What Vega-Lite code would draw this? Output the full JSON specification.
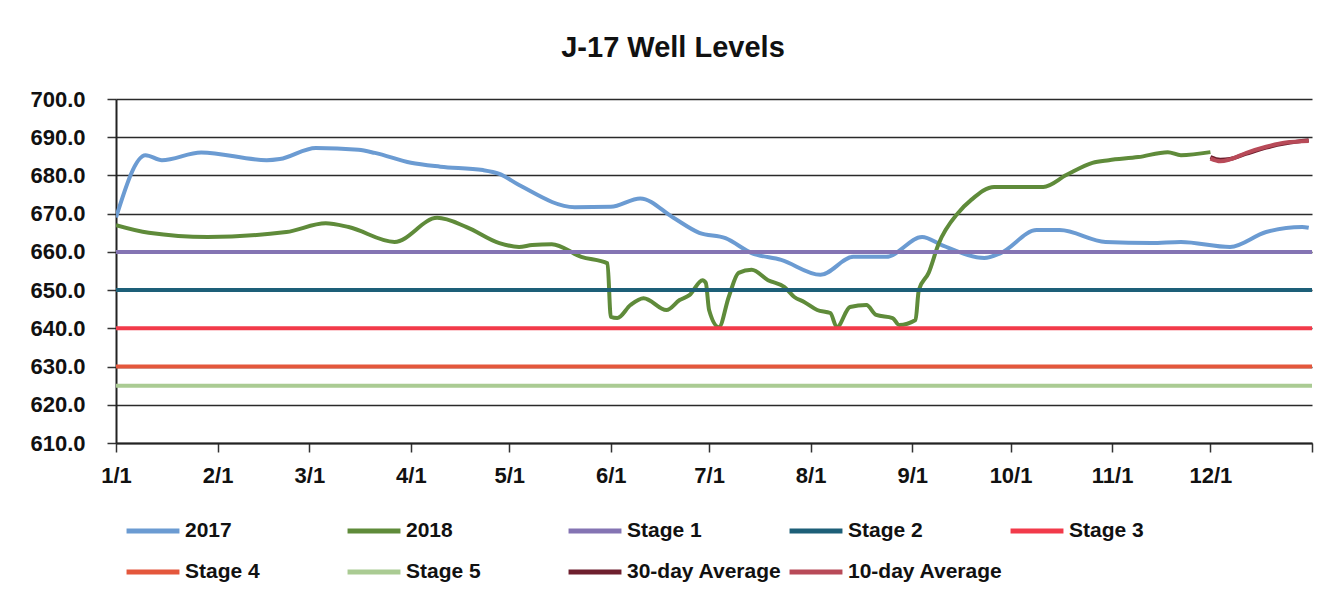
{
  "$schema": "https://vega.github.io/schema/vega-lite/v6.json",
  "width": 1196,
  "height": 344,
  "autosize": {"type": "none"},
  "padding": {"left": 116, "top": 99, "right": 29, "bottom": 168},
  "background": "white",
  "title": {
    "text": "J-17 Well Levels",
    "font": "Liberation Sans",
    "fontSize": 29,
    "fontWeight": "bold",
    "color": "#111111",
    "anchor": "middle",
    "dx": -41,
    "baseline": "alphabetic",
    "offset": 2
  },
  "config": {
    "view": {"stroke": null},
    "font": "Liberation Sans"
  },
  "data": {
    "values": [
      {"series": "2017", "date": "2018/01/01", "level": 669},
      {"series": "2017", "date": "2018/01/10", "level": 685.3},
      {"series": "2017", "date": "2018/01/15", "level": 684},
      {"series": "2017", "date": "2018/01/27", "level": 686},
      {"series": "2017", "date": "2018/02/16", "level": 684},
      {"series": "2017", "date": "2018/02/20", "level": 684.3},
      {"series": "2017", "date": "2018/03/03", "level": 687.2},
      {"series": "2017", "date": "2018/03/16", "level": 686.7},
      {"series": "2017", "date": "2018/03/21", "level": 685.9},
      {"series": "2017", "date": "2018/04/01", "level": 683.3},
      {"series": "2017", "date": "2018/04/10", "level": 682.3},
      {"series": "2017", "date": "2018/04/23", "level": 681.4},
      {"series": "2017", "date": "2018/04/28", "level": 680.4},
      {"series": "2017", "date": "2018/05/04", "level": 677.5},
      {"series": "2017", "date": "2018/05/21", "level": 671.7},
      {"series": "2017", "date": "2018/06/01", "level": 671.8},
      {"series": "2017", "date": "2018/06/10", "level": 674},
      {"series": "2017", "date": "2018/06/20", "level": 669},
      {"series": "2017", "date": "2018/06/28", "level": 665},
      {"series": "2017", "date": "2018/07/06", "level": 663.6},
      {"series": "2017", "date": "2018/07/14", "level": 659.7},
      {"series": "2017", "date": "2018/07/23", "level": 657.9},
      {"series": "2017", "date": "2018/08/04", "level": 654},
      {"series": "2017", "date": "2018/08/14", "level": 658.7},
      {"series": "2017", "date": "2018/08/24", "level": 658.7},
      {"series": "2017", "date": "2018/09/04", "level": 663.9},
      {"series": "2017", "date": "2018/09/10", "level": 661.8},
      {"series": "2017", "date": "2018/09/23", "level": 658.4},
      {"series": "2017", "date": "2018/09/28", "level": 659.7},
      {"series": "2017", "date": "2018/10/09", "level": 665.7},
      {"series": "2017", "date": "2018/10/16", "level": 665.7},
      {"series": "2017", "date": "2018/10/30", "level": 662.6},
      {"series": "2017", "date": "2018/11/13", "level": 662.3},
      {"series": "2017", "date": "2018/11/22", "level": 662.6},
      {"series": "2017", "date": "2018/12/07", "level": 661.3},
      {"series": "2017", "date": "2018/12/18", "level": 665.2},
      {"series": "2017", "date": "2018/12/29", "level": 666.5},
      {"series": "2017", "date": "2018/12/31", "level": 666.3},

      {"series": "2018", "date": "2018/01/01", "level": 667},
      {"series": "2018", "date": "2018/01/11", "level": 665},
      {"series": "2018", "date": "2018/01/29", "level": 663.9},
      {"series": "2018", "date": "2018/02/22", "level": 665.2},
      {"series": "2018", "date": "2018/03/06", "level": 667.5},
      {"series": "2018", "date": "2018/03/13", "level": 666.5},
      {"series": "2018", "date": "2018/03/27", "level": 662.6},
      {"series": "2018", "date": "2018/04/09", "level": 668.9},
      {"series": "2018", "date": "2018/04/18", "level": 666.5},
      {"series": "2018", "date": "2018/04/28", "level": 662.3},
      {"series": "2018", "date": "2018/05/04", "level": 661.3},
      {"series": "2018", "date": "2018/05/08", "level": 661.8},
      {"series": "2018", "date": "2018/05/14", "level": 662},
      {"series": "2018", "date": "2018/05/23", "level": 658.7},
      {"series": "2018", "date": "2018/05/31", "level": 657},
      {"series": "2018", "date": "2018/06/01", "level": 643},
      {"series": "2018", "date": "2018/06/03", "level": 642.7},
      {"series": "2018", "date": "2018/06/07", "level": 646.1},
      {"series": "2018", "date": "2018/06/11", "level": 647.9},
      {"series": "2018", "date": "2018/06/18", "level": 644.8},
      {"series": "2018", "date": "2018/06/22", "level": 647.4},
      {"series": "2018", "date": "2018/06/25", "level": 648.7},
      {"series": "2018", "date": "2018/06/29", "level": 652.6},
      {"series": "2018", "date": "2018/06/30", "level": 651.9},
      {"series": "2018", "date": "2018/07/01", "level": 644.8},
      {"series": "2018", "date": "2018/07/04", "level": 640.3},
      {"series": "2018", "date": "2018/07/07", "level": 648.2},
      {"series": "2018", "date": "2018/07/10", "level": 654.5},
      {"series": "2018", "date": "2018/07/14", "level": 655.3},
      {"series": "2018", "date": "2018/07/19", "level": 652.6},
      {"series": "2018", "date": "2018/07/24", "level": 650.8},
      {"series": "2018", "date": "2018/07/27", "level": 648.2},
      {"series": "2018", "date": "2018/07/30", "level": 646.9},
      {"series": "2018", "date": "2018/08/03", "level": 644.8},
      {"series": "2018", "date": "2018/08/07", "level": 644},
      {"series": "2018", "date": "2018/08/09", "level": 640.3},
      {"series": "2018", "date": "2018/08/13", "level": 645.6},
      {"series": "2018", "date": "2018/08/18", "level": 646.1},
      {"series": "2018", "date": "2018/08/21", "level": 643.5},
      {"series": "2018", "date": "2018/08/26", "level": 642.7},
      {"series": "2018", "date": "2018/08/28", "level": 640.9},
      {"series": "2018", "date": "2018/09/02", "level": 642.2},
      {"series": "2018", "date": "2018/09/03", "level": 650},
      {"series": "2018", "date": "2018/09/06", "level": 654.5},
      {"series": "2018", "date": "2018/09/09", "level": 662},
      {"series": "2018", "date": "2018/09/15", "level": 670.2},
      {"series": "2018", "date": "2018/09/19", "level": 673.6},
      {"series": "2018", "date": "2018/09/26", "level": 677},
      {"series": "2018", "date": "2018/10/11", "level": 677},
      {"series": "2018", "date": "2018/10/18", "level": 680.1},
      {"series": "2018", "date": "2018/10/26", "level": 683.3},
      {"series": "2018", "date": "2018/10/31", "level": 684},
      {"series": "2018", "date": "2018/11/09", "level": 684.8},
      {"series": "2018", "date": "2018/11/18", "level": 686.1},
      {"series": "2018", "date": "2018/11/22", "level": 685.3},
      {"series": "2018", "date": "2018/12/01", "level": 686.1},

      {"series": "Stage 1", "date": "2018/01/01", "level": 660},
      {"series": "Stage 1", "date": "2019/01/01", "level": 660},
      {"series": "Stage 2", "date": "2018/01/01", "level": 650},
      {"series": "Stage 2", "date": "2019/01/01", "level": 650},
      {"series": "Stage 3", "date": "2018/01/01", "level": 640},
      {"series": "Stage 3", "date": "2019/01/01", "level": 640},
      {"series": "Stage 4", "date": "2018/01/01", "level": 630},
      {"series": "Stage 4", "date": "2019/01/01", "level": 630},
      {"series": "Stage 5", "date": "2018/01/01", "level": 625},
      {"series": "Stage 5", "date": "2019/01/01", "level": 625},

      {"series": "30-day Average", "date": "2018/12/01", "level": 684.8},
      {"series": "30-day Average", "date": "2018/12/04", "level": 684.1},
      {"series": "30-day Average", "date": "2018/12/07", "level": 684.3},
      {"series": "30-day Average", "date": "2018/12/12", "level": 685.7},
      {"series": "30-day Average", "date": "2018/12/18", "level": 687.3},
      {"series": "30-day Average", "date": "2018/12/24", "level": 688.4},
      {"series": "30-day Average", "date": "2018/12/31", "level": 689.2},

      {"series": "10-day Average", "date": "2018/12/01", "level": 684.4},
      {"series": "10-day Average", "date": "2018/12/04", "level": 683.7},
      {"series": "10-day Average", "date": "2018/12/07", "level": 684.2},
      {"series": "10-day Average", "date": "2018/12/12", "level": 685.9},
      {"series": "10-day Average", "date": "2018/12/18", "level": 687.5},
      {"series": "10-day Average", "date": "2018/12/24", "level": 688.6},
      {"series": "10-day Average", "date": "2018/12/31", "level": 689.0}
    ]
  },
  "mark": {"type": "line", "strokeWidth": 4, "interpolate": "monotone", "clip": true},
  "encoding": {
    "x": {
      "field": "date",
      "type": "temporal",
      "scale": {"domain": [{"year": 2018, "month": 1, "date": 1}, {"year": 2019, "month": 1, "date": 1}]},
      "axis": {
        "title": null,
        "values": [
          {"year": 2018, "month": 1, "date": 1},
          {"year": 2018, "month": 2, "date": 1},
          {"year": 2018, "month": 3, "date": 1},
          {"year": 2018, "month": 4, "date": 1},
          {"year": 2018, "month": 5, "date": 1},
          {"year": 2018, "month": 6, "date": 1},
          {"year": 2018, "month": 7, "date": 1},
          {"year": 2018, "month": 8, "date": 1},
          {"year": 2018, "month": 9, "date": 1},
          {"year": 2018, "month": 10, "date": 1},
          {"year": 2018, "month": 11, "date": 1},
          {"year": 2018, "month": 12, "date": 1},
          {"year": 2019, "month": 1, "date": 1}
        ],
        "labelExpr": "year(datum.value) == 2019 ? '' : timeFormat(datum.value, '%-m/%-d')",
        "labelFont": "Liberation Sans",
        "labelFontSize": 22,
        "labelFontWeight": "bold",
        "labelColor": "#111111",
        "labelPadding": 13,
        "labelFlush": false,
        "labelOverlap": false,
        "tickSize": 9,
        "tickColor": "#333333",
        "tickWidth": 1.5,
        "domainColor": "#222222",
        "domainWidth": 2,
        "grid": false
      }
    },
    "y": {
      "field": "level",
      "type": "quantitative",
      "scale": {"domain": [610, 700], "nice": false, "zero": false},
      "axis": {
        "title": null,
        "values": [610, 620, 630, 640, 650, 660, 670, 680, 690, 700],
        "format": ".1f",
        "labelFont": "Liberation Sans",
        "labelFontSize": 22,
        "labelFontWeight": "bold",
        "labelColor": "#111111",
        "labelPadding": 22,
        "tickSize": 9,
        "tickColor": "#333333",
        "tickWidth": 1.5,
        "domainColor": "#222222",
        "domainWidth": 2,
        "grid": true,
        "gridColor": "#2a2a2a",
        "gridWidth": 1.6
      }
    },
    "color": {
      "field": "series",
      "type": "nominal",
      "scale": {
        "domain": ["2017", "2018", "Stage 1", "Stage 2", "Stage 3", "Stage 4", "Stage 5", "30-day Average", "10-day Average"],
        "range": ["#6b9bd2", "#5f8b3a", "#8474b3", "#1d5f78", "#f23a4a", "#e4573c", "#aacb93", "#6e1f2e", "#b84a58"]
      },
      "sort": null,
      "legend": {
        "title": null,
        "orient": "none",
        "legendX": 8,
        "legendY": 403,
        "direction": "horizontal",
        "columns": 5,
        "gridAlign": "all",
        "columnPadding": -3,
        "rowPadding": 2,
        "padding": 0,
        "symbolType": "stroke",
        "symbolSize": 2800,
        "symbolStrokeWidth": 5,
        "labelOffset": 3,
        "labelFont": "Liberation Sans",
        "labelFontSize": 21,
        "labelFontWeight": "bold",
        "labelColor": "#111111",
        "labelLimit": 400
      }
    }
  }
}
